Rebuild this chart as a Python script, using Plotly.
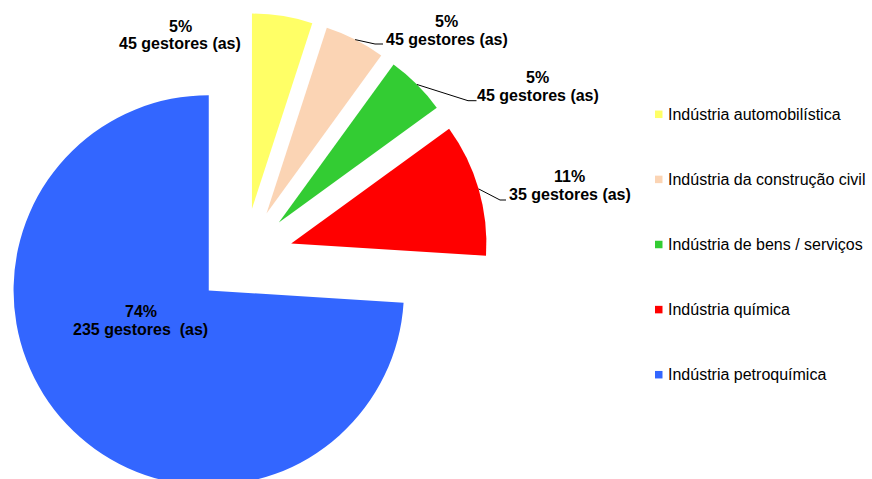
import math
import plotly.graph_objects as go

# --- data -------------------------------------------------------------------
setores = [
    "Indústria automobilística",
    "Indústria da construção civil",
    "Indústria de bens / serviços",
    "Indústria química",
    "Indústria petroquímica",
]
percentuais = [5, 5, 5, 11, 74]
gestores = [45, 45, 45, 35, 235]
sufixos = ["gestores (as)"] * 4 + ["gestores \u00a0(as)"]

# --- style ------------------------------------------------------------------
cores = ["#FFFF66", "#FBD4B4", "#33CC33", "#FF0000", "#3366FF"]
afastamento = 0.25
FONTE = "Liberation Sans, Arial, sans-serif"

W, H = 872, 501
M_T = 13
DOM_X = [0.0, 0.5604]

# label placement (pixels): x centre, y of first line, y of second line, leader elbow
rotulos_px = [
    (180.0, 26.5, 43.5, None),
    (446.5, 21.5, 39.0, (375, 44, 383)),
    (537.5, 77.5, 95.0, (468, 100.7, 476.5)),
    (569.5, 176.5, 194.0, (500, 200, 506)),
    (140.5, 311.5, 329.5, None),
]

LEG_X, LEG_Y0, LEG_STEP, LEG_SQ = 655.0, 114.3, 65.1, 7.5


def px(x):
    return x / W


def py(y):
    return 1 - (y - M_T) / (H - M_T)


fig = go.Figure(
    go.Pie(
        labels=setores,
        values=percentuais,
        marker=dict(colors=cores, line=dict(width=0)),
        pull=[afastamento] * len(percentuais),
        sort=False,
        direction="clockwise",
        rotation=0,
        textinfo="none",
        hoverinfo="label+percent",
        showlegend=False,
        domain=dict(x=DOM_X, y=[0, 1]),
    )
)

# pie geometry as laid out by plotly (pixels)
plot_w, plot_h = W, H - M_T
cx = plot_w * (DOM_X[0] + DOM_X[1]) / 2
cy = M_T + plot_h / 2
raio = min(plot_w * (DOM_X[1] - DOM_X[0]) / 2, plot_h / 2) / (1 + afastamento)

annotations = []
shapes = []
total = sum(percentuais)
acum = 0.0
for i, (pct, n) in enumerate(zip(percentuais, gestores)):
    meio = 90 - 360 * (acum + pct / 2) / total
    acum += pct
    tx, y1, y2, cot = rotulos_px[i]
    for texto, yy in ((f"{pct}%", y1), (f"{n} {sufixos[i]}", y2)):
        annotations.append(
            dict(
                text=f"<b>{texto}</b>",
                x=px(tx), y=py(yy), xref="paper", yref="paper",
                xanchor="center", yanchor="middle", showarrow=False,
                font=dict(family=FONTE, size=16, color="#000000"),
            )
        )
    if cot is not None:
        ang = math.radians(meio)
        ax = cx + raio * (1 + afastamento) * math.cos(ang)
        ay = cy - raio * (1 + afastamento) * math.sin(ang)
        ex, ey, fx = cot
        shapes.append(
            dict(
                type="path", xref="paper", yref="paper",
                path=f"M {px(ax)},{py(ay)} L {px(ex)},{py(ey)} L {px(fx)},{py(ey)}",
                line=dict(color="#000000", width=1),
            )
        )

# legend
for i, (nome, cor) in enumerate(zip(setores, cores)):
    yc = LEG_Y0 + i * LEG_STEP
    shapes.append(
        dict(
            type="rect", xref="paper", yref="paper",
            x0=px(LEG_X), x1=px(LEG_X + LEG_SQ),
            y0=py(yc - LEG_SQ / 2), y1=py(yc + LEG_SQ / 2),
            fillcolor=cor, line=dict(width=0),
        )
    )
    annotations.append(
        dict(
            text=nome, x=px(LEG_X + LEG_SQ + 3.5), y=py(yc),
            xref="paper", yref="paper", xanchor="left", yanchor="middle",
            showarrow=False, font=dict(family=FONTE, size=16, color="#000000"),
        )
    )

fig.update_layout(
    width=W, height=H,
    margin=dict(l=0, r=0, t=M_T, b=0, pad=0),
    paper_bgcolor="white", plot_bgcolor="white",
    annotations=annotations, shapes=shapes,
)

fig.write_html(
    "out.html",
    post_script="document.documentElement.style.overflow='hidden';document.body.style.overflow='hidden';",
)
